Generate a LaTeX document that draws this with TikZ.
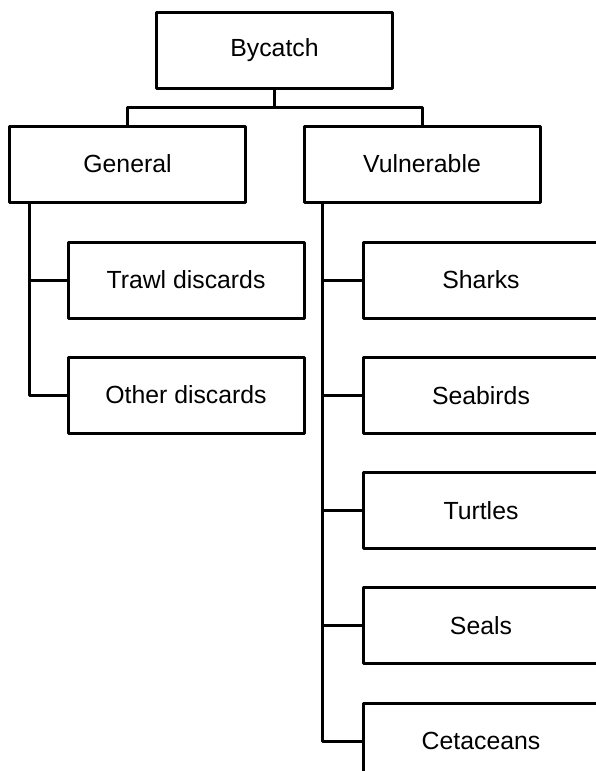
\documentclass[tikz,border=0pt]{standalone}
\usepackage{fontspec}
\setmainfont{Liberation Sans}

\tikzset{
    catbox/.style={draw, line width=3pt, line join=round, inner sep=0pt,
        minimum width=236pt, minimum height=76pt,
        font=\fontsize{24.8}{28}\selectfont},
    link/.style={line width=3pt, line join=round},
}

\begin{document}
\begin{tikzpicture}[x=1pt, y=-1pt]
    \useasboundingbox (0,0) rectangle (596,771);
    \clip (0,0) rectangle (596,771);
    \node (bycatch) [catbox] at (274.5,50) {Bycatch};
    \node (general) [catbox] at (127.5,164) {General};
    \node (vulnerable) [catbox] at (422,164) {Vulnerable};
    % general bycatch
    \node (trawl) [catbox] at (186,280) {Trawl discards};
    \node (other) [catbox] at (186,395) {Other discards};
    % vulnerable species
    \node (sharks) [catbox] at (481,280) {Sharks};
    \node (seabirds) [catbox] at (481,395.5) {Seabirds};
    \node (turtles) [catbox] at (481,510.5) {Turtles};
    \node (seals) [catbox] at (481,625.5) {Seals};
    \node (cetaceans) [catbox] at (481,741) {Cetaceans};

    \draw [link] (bycatch.south) -- ++(0,18) -| (general.north);
    \draw [link] (bycatch.south) -- ++(0,18) -| (vulnerable.north);
    \foreach \n in {trawl,other}
        \draw [link] ([xshift=21.5pt]general.south west) |- (\n.west);
    \foreach \n in {sharks,seabirds,turtles,seals,cetaceans}
        \draw [link] ([xshift=20pt]vulnerable.south west) |- (\n.west);
\end{tikzpicture}
\end{document}
